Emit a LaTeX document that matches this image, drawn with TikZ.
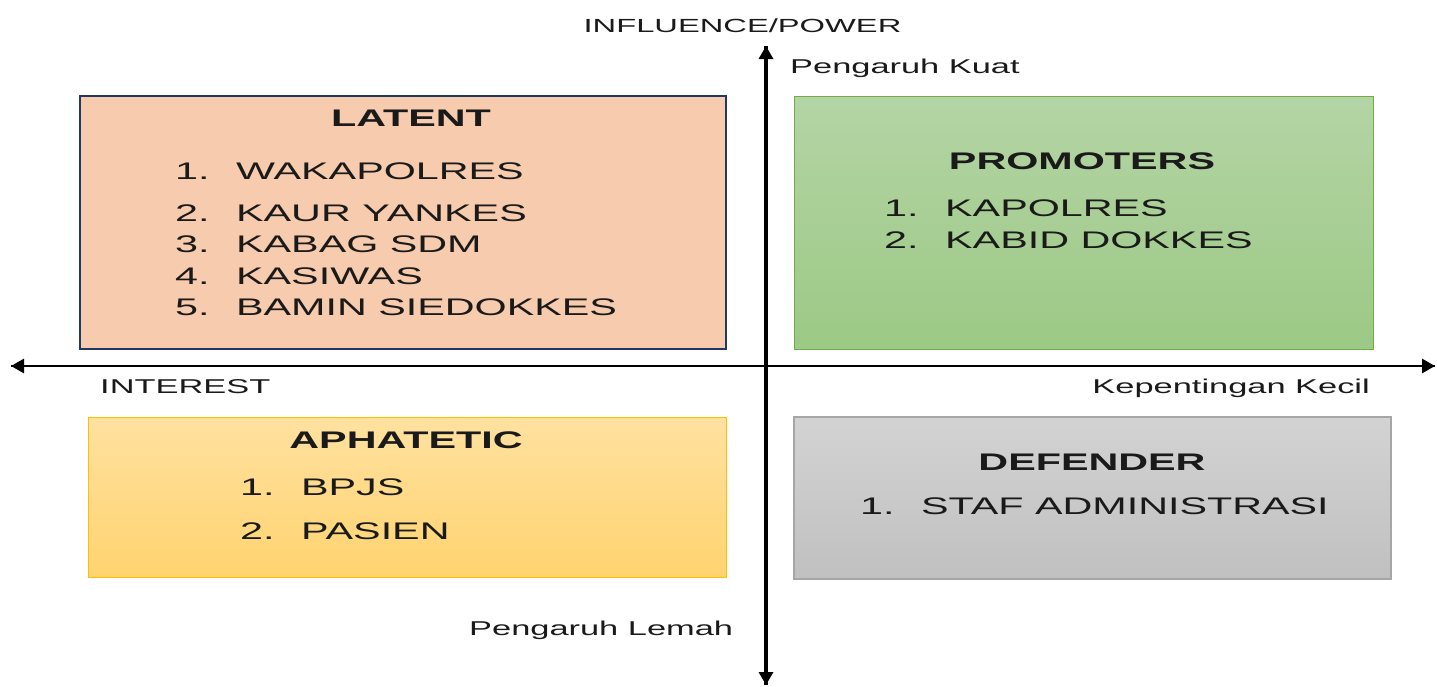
\documentclass[tikz,border=0pt]{standalone}
\usepackage{fontspec}
\setmainfont[FakeStretch=1.72]{Liberation Sans}
\usetikzlibrary{arrows.meta}
\definecolor{navy}{HTML}{1F3864}
\definecolor{peach}{HTML}{F7CBAD}
\definecolor{greentop}{HTML}{B4D4A5}
\definecolor{greenbot}{HTML}{9CC985}
\definecolor{greenline}{HTML}{70AD47}
\definecolor{yeltop}{HTML}{FFE1A0}
\definecolor{yelbot}{HTML}{FFD36F}
\definecolor{yelline}{HTML}{FFC000}
\definecolor{greytop}{HTML}{D3D3D3}
\definecolor{greybot}{HTML}{C0C0C0}
\definecolor{greyline}{HTML}{A6A6A6}
\definecolor{ink}{HTML}{1A1A1A}
\tikzset{
  quad/.style={rectangle, inner sep=0pt},
  title/.style={anchor=base, inner sep=0pt, font=\fontsize{24}{28}\selectfont\bfseries, text=ink},
  item/.style={anchor=base west, inner sep=0pt, font=\fontsize{24}{28}\selectfont, text=ink},
  axlabel/.style={inner sep=0pt, font=\fontsize{20}{24}\selectfont, text=ink},
  axis/.style={-{Triangle[width=14pt,length=13pt]}, black},
}
\newcommand{\itm}[2]{\makebox[61pt][l]{#1}#2}
\begin{document}
\begin{tikzpicture}[x=1pt,y=-1pt]
\useasboundingbox (0,0) rectangle (1437,686);
% boxes
\node[quad, draw=navy, line width=2pt, fill=peach, minimum width=646pt, minimum height=253pt] (latent) at (403,222.5) {};
\node[quad, draw=greenline, line width=1pt, top color=greentop, bottom color=greenbot, minimum width=579pt, minimum height=253pt] (promoters) at (1083.5,222.5) {};
\node[quad, draw=yelline, line width=1pt, top color=yeltop, bottom color=yelbot, minimum width=638pt, minimum height=160pt] (aphatetic) at (407,497) {};
\node[quad, draw=greyline, line width=1.5pt, top color=greytop, bottom color=greybot, minimum width=597pt, minimum height=162pt] (defender) at (1092.5,498) {};
% axes
\coordinate (top) at (766,46);
\coordinate (bottom) at (766,685);
\coordinate (left) at (11,366);
\coordinate (right) at (1435,366);
\draw[axis, line width=3.8pt] (bottom) -- (top);
\draw[axis, line width=3.8pt] (top) -- (bottom);
\draw[axis, line width=2.8pt] (left) -- (right);
\draw[axis, line width=2.8pt] (right) -- (left);
% axis labels
\node[axlabel, anchor=base, font=\fontsize{19}{23}\selectfont] (influence) at (742.5,32) {INFLUENCE/POWER};
\node[axlabel, anchor=base west] (kuat) at (790,73) {Pengaruh Kuat};
\node[axlabel, anchor=base west] (interest) at (100,393) {INTEREST};
\node[axlabel, anchor=base east] (kecil) at (1370,393) {Kepentingan Kecil};
\node[axlabel, anchor=base west] (lemah) at (469,635) {Pengaruh Lemah};
% LATENT
\node[title] (latentT) at (411,126) {LATENT};
\node[item] (l1) at (175,179) {\itm{1.}{WAKAPOLRES}};
\node[item] (l2) at (175,221) {\itm{2.}{KAUR YANKES}};
\node[item] (l3) at (175,252) {\itm{3.}{KABAG SDM}};
\node[item] (l4) at (175,284) {\itm{4.}{KASIWAS}};
\node[item] (l5) at (175,315) {\itm{5.}{BAMIN SIEDOKKES}};
% PROMOTERS
\node[title] (promT) at (1082,169) {PROMOTERS};
\node[item] (p1) at (884,216) {\itm{1.}{KAPOLRES}};
\node[item] (p2) at (884,248) {\itm{2.}{KABID DOKKES}};
% APHATETIC
\node[title] (aphT) at (406,448) {APHATETIC};
\node[item] (a1) at (240,495) {\itm{1.}{BPJS}};
\node[item] (a2) at (240,539) {\itm{2.}{PASIEN}};
% DEFENDER
\node[title] (defT) at (1092,470) {DEFENDER};
\node[item] (d1) at (860,514) {\itm{1.}{STAF ADMINISTRASI}};
\end{tikzpicture}
\end{document}
